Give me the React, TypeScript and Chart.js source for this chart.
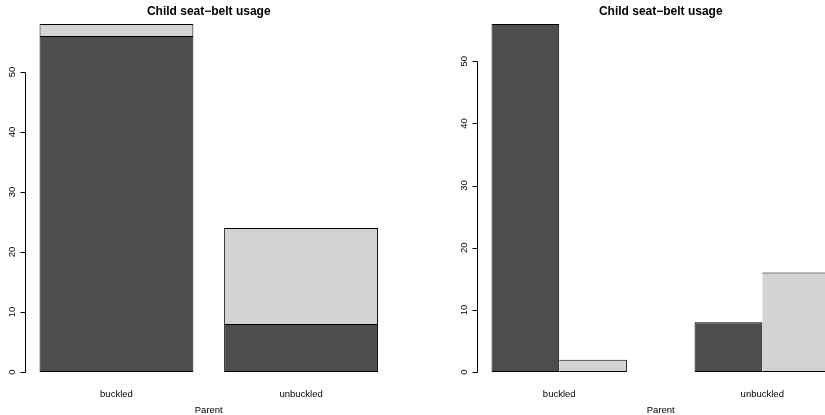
import React, { useEffect, useRef } from 'react';
import { Chart, registerables } from 'chart.js';

Chart.register(...registerables);

// ---- data ----
const CATEGORIES = ['buckled', 'unbuckled'];
const CHILD_BUCKLED = [56, 8];
const CHILD_UNBUCKLED = [2, 16];
const Y_TICKS = [0, 10, 20, 30, 40, 50];
const TITLE = 'Child seat\u2212belt usage';
const X_LABEL = 'Parent';

// ---- style ----
const DARK = '#4D4D4D';
const LIGHT = '#D3D3D3';
const FONT = '"Liberation Sans", Arial, Helvetica, sans-serif';
const CANVAS_W = 452;
const CANVAS_H = 415;
const PAD = { left: 26, right: 60.5, top: 10, bottom: 29 };

function extend(lo: number, hi: number): [number, number] {
  const d = (hi - lo) * 0.04;
  return [lo - d, hi + d];
}

function buildConfig(beside: boolean): any {
  const n = CATEGORIES.length;
  let centers: number[];
  let xlim: [number, number];
  if (!beside) {
    // R barplot: width 1, space 0.2 before each bar
    centers = CATEGORIES.map((_, i) => 0.2 + i * 1.2 + 0.5);
    xlim = extend(0.2, 0.2 + (n - 1) * 1.2 + 1);
  } else {
    // beside: 2 bars per group, space 1 between groups
    centers = CATEGORIES.map((_, i) => 1 + i * 3 + 1);
    xlim = extend(1, 1 + (n - 1) * 3 + 2);
  }
  const totals = CATEGORIES.map((_, i) => CHILD_BUCKLED[i] + CHILD_UNBUCKLED[i]);
  const ymax = beside ? Math.max(...CHILD_BUCKLED, ...CHILD_UNBUCKLED) : Math.max(...totals);
  const ylim = extend(0, ymax);

  const common = {
    borderColor: '#000000',
    borderSkipped: false,
    inflateAmount: 0,
    categoryPercentage: beside ? 2 / 3 : 1,
    barPercentage: beside ? 1 : 1 / 1.2,
  };
  const lightBorder = beside
    ? { left: 0, top: 1, right: 1, bottom: 1 }
    : { left: 1, top: 1, right: 1, bottom: 0 };

  const plugin = {
    id: 'rDecor',
    afterDraw(chart: any) {
      const { ctx, chartArea } = chart;
      const xs = chart.scales.x;
      const ys = chart.scales.y;
      ctx.save();
      ctx.strokeStyle = '#000000';
      ctx.fillStyle = '#000000';
      ctx.lineWidth = 1;
      const ax = Math.round(chartArea.left) - 0.5;
      // axis line
      const yTop = ys.getPixelForValue(Y_TICKS[Y_TICKS.length - 1]);
      const yBot = ys.getPixelForValue(Y_TICKS[0]);
      ctx.beginPath();
      ctx.moveTo(ax, Math.round(yTop) + 0.5);
      ctx.lineTo(ax, Math.round(yBot) + 0.5);
      ctx.stroke();
      // ticks + labels
      ctx.font = `9.5px ${FONT}`;
      ctx.textAlign = 'center';
      ctx.textBaseline = 'alphabetic';
      for (const v of Y_TICKS) {
        const py = Math.round(ys.getPixelForValue(v)) + 0.5;
        ctx.beginPath();
        ctx.moveTo(ax - 5, py);
        ctx.lineTo(ax, py);
        ctx.stroke();
        ctx.save();
        ctx.translate(chartArea.left - 10.7, ys.getPixelForValue(v));
        ctx.rotate(-Math.PI / 2);
        ctx.fillText(String(v), 0, 0);
        ctx.restore();
      }
      // category labels
      CATEGORIES.forEach((c, i) => {
        ctx.fillText(c, xs.getPixelForValue(centers[i]), chartArea.bottom + 11);
      });
      const mid = (chartArea.left + chartArea.right) / 2;
      ctx.fillText(X_LABEL, mid, chartArea.bottom + 27);
      ctx.font = `bold 12px ${FONT}`;
      ctx.fillText(TITLE, mid, 15);
      ctx.restore();
    },
  };

  return {
    type: 'bar',
    data: {
      datasets: [
        {
          label: 'buckled',
          data: centers.map((c, i) => ({ x: c, y: CHILD_BUCKLED[i] })),
          backgroundColor: DARK,
          borderWidth: 1,
          ...common,
        },
        {
          label: 'unbuckled',
          data: centers.map((c, i) => ({ x: c, y: CHILD_UNBUCKLED[i] })),
          backgroundColor: LIGHT,
          borderWidth: lightBorder,
          ...common,
        },
      ],
    },
    options: {
      responsive: false,
      animation: false,
      events: [],
      layout: { padding: PAD },
      plugins: { legend: { display: false }, tooltip: { enabled: false }, title: { display: false } },
      scales: {
        x: {
          type: 'linear',
          display: false,
          offset: false,
          grid: { offset: false },
          min: xlim[0],
          max: xlim[1],
          stacked: !beside,
          afterBuildTicks: (s: any) => {
            s.ticks = centers.map((v) => ({ value: v }));
          },
        },
        y: {
          type: 'linear',
          display: false,
          min: ylim[0],
          max: ylim[1],
          stacked: !beside,
        },
      },
    },
    plugins: [plugin],
  };
}

function Panel({ beside, left }: { beside: boolean; left: number }) {
  const ref = useRef<HTMLCanvasElement | null>(null);
  useEffect(() => {
    if (!ref.current) return;
    const chart = new Chart(ref.current, buildConfig(beside));
    return () => chart.destroy();
  }, [beside]);
  return (
    <canvas
      ref={ref}
      width={CANVAS_W}
      height={CANVAS_H}
      style={{ position: 'absolute', left, top: 0, width: CANVAS_W, height: CANVAS_H }}
    />
  );
}

export default function App() {
  return (
    <div
      style={{
        position: 'absolute',
        left: 0,
        top: 0,
        width: 825,
        height: 415,
        overflow: 'hidden',
        background: '#ffffff',
      }}
    >
      <Panel beside={false} left={0} />
      <Panel beside={true} left={CANVAS_W} />
    </div>
  );
}
